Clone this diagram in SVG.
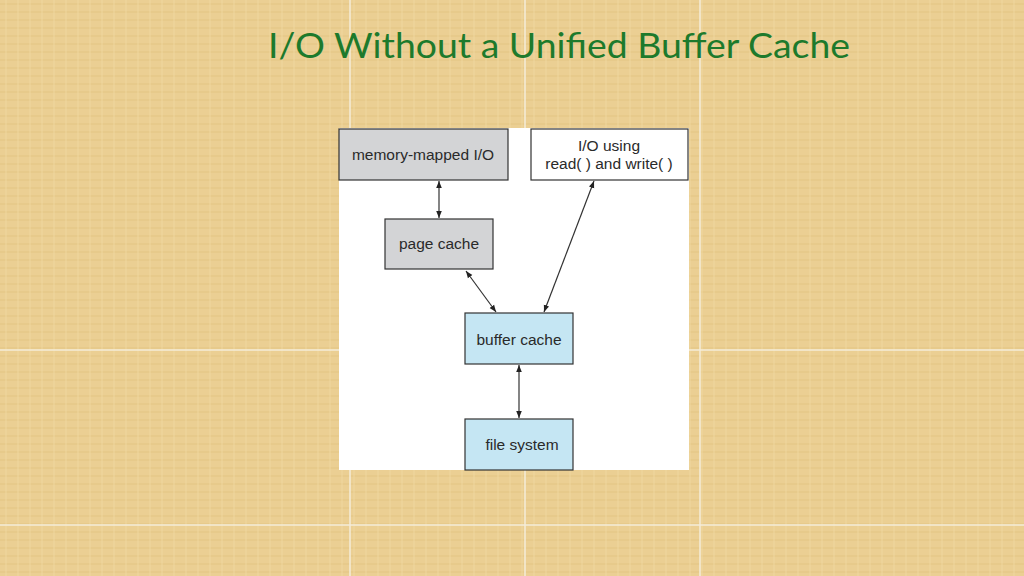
<svg xmlns="http://www.w3.org/2000/svg" width="1024" height="576" viewBox="0 0 1024 576">
<defs>
<style>
.n{stroke:#333;stroke-width:1.2}
.t{font-family:"Liberation Sans",Arial,sans-serif;font-size:15.5px;fill:#2a2a2a;text-anchor:middle}
.c{stroke:#333;stroke-width:1.2;fill:none;marker-start:url(#a);marker-end:url(#a)}
.g{stroke:#f4ecd8;stroke-width:1.5}
</style>
<marker id="a" viewBox="0 0 10 10" refX="10" refY="5" markerWidth="7" markerHeight="7" orient="auto-start-reverse" markerUnits="userSpaceOnUse"><path d="M0,1 L10,5 L0,9 z" fill="#222"/></marker>
<pattern id="p" width="12" height="8" patternUnits="userSpaceOnUse"><rect width="12" height="8" fill="#ebcf93"/><rect y="3" width="12" height="2" fill="#e3c583" opacity="0.5"/><rect x="5" width="2" height="8" fill="#f0d9a3" opacity="0.4"/></pattern>
</defs>
<rect width="1024" height="576" fill="url(#p)"/>
<g>
<line class="g" x1="350" y1="0" x2="350" y2="576"/>
<line class="g" x1="525" y1="0" x2="525" y2="576"/>
<line class="g" x1="700" y1="0" x2="700" y2="576"/>
<line class="g" x1="0" y1="350" x2="1024" y2="350"/>
<line class="g" x1="0" y1="525" x2="1024" y2="525"/>
</g>
<text x="559" y="58" font-family="Lato,'Open Sans',sans-serif" font-size="35" fill="#1d7a2c" text-anchor="middle" textLength="582" lengthAdjust="spacingAndGlyphs">I/O Without a Unified Buffer Cache</text>
<rect x="339" y="128" width="350" height="342" fill="#fff"/>
<g id="mem"><rect class="n" x="339" y="129" width="169" height="51" fill="#d3d4d6"/><text class="t" x="423" y="160">memory-mapped I/O</text></g>
<g id="rw"><rect class="n" x="531" y="129" width="157" height="51" fill="#fff"/><text class="t" x="609" y="151">I/O using</text><text class="t" x="609" y="169">read( ) and write( )</text></g>
<g id="page"><rect class="n" x="385" y="219" width="108" height="50" fill="#d3d4d6"/><text class="t" x="439" y="249">page cache</text></g>
<g id="buf"><rect class="n" x="465" y="313" width="108" height="51" fill="#c5e6f3"/><text class="t" x="519" y="345">buffer cache</text></g>
<g id="fs"><rect class="n" x="465" y="419" width="108" height="51" fill="#c5e6f3"/><text class="t" x="522" y="450">file system</text></g>
<g id="connectors">
<line class="c" x1="439" y1="181" x2="439" y2="218"/>
<line class="c" x1="466" y1="271" x2="496" y2="312"/>
<line class="c" x1="594" y1="181" x2="544" y2="312"/>
<line class="c" x1="519" y1="365" x2="519" y2="418"/>
</g>
</svg>
